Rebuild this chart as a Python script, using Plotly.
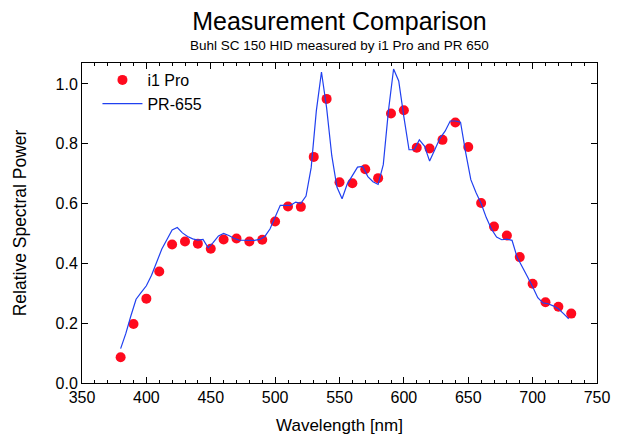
import plotly.graph_objects as go

TITLE = 'Measurement Comparison'
SUBTITLE = 'Buhl SC 150 HID measured by i1 Pro and PR 650'

# i1 Pro readings, every 10 nm
i1_wavelength = list(range(380, 731, 10))
i1_power = [0.086, 0.197, 0.282, 0.373, 0.463, 0.473, 0.466, 0.449, 0.480, 0.483,
            0.473, 0.479, 0.540, 0.590, 0.589, 0.756, 0.950, 0.671, 0.668, 0.715,
            0.685, 0.901, 0.912, 0.787, 0.784, 0.813, 0.871, 0.789, 0.602, 0.523,
            0.493, 0.421, 0.332, 0.270, 0.255, 0.232]

# PR-655 readings, every 4 nm
pr_wavelength = list(range(380, 729, 4))
pr_power = [0.115, 0.165, 0.225, 0.280, 0.303, 0.325, 0.360, 0.405, 0.448, 0.480,
            0.512, 0.520, 0.502, 0.490, 0.482, 0.478, 0.480, 0.452, 0.470, 0.492,
            0.500, 0.493, 0.484, 0.478, 0.477, 0.477, 0.477, 0.480, 0.490, 0.515,
            0.555, 0.594, 0.594, 0.594, 0.605, 0.601, 0.625, 0.720, 0.910, 1.040,
            0.920, 0.760, 0.655, 0.616, 0.665, 0.696, 0.722, 0.724, 0.690, 0.673,
            0.664, 0.730, 0.910, 1.050, 1.010, 0.890, 0.780, 0.780, 0.813, 0.792,
            0.742, 0.780, 0.818, 0.842, 0.876, 0.876, 0.872, 0.770, 0.680, 0.637,
            0.600, 0.553, 0.515, 0.488, 0.479, 0.481, 0.477, 0.420, 0.385, 0.355,
            0.322, 0.285, 0.268, 0.265, 0.258, 0.248, 0.232, 0.215]

FONT = 'Liberation Sans, Arial, Helvetica, sans-serif'

# the page body has an 8px margin, so the figure is 8px smaller than the window
FIG_W = 616
FIG_H = 432

fig = go.Figure()
fig.add_trace(go.Scatter(x=i1_wavelength, y=i1_power, mode='markers', name='i1 Pro',
                         marker=dict(color='#ff0a1e', size=10, line=dict(width=0))))
fig.add_trace(go.Scatter(x=pr_wavelength, y=pr_power, mode='lines', name='PR-655',
                         line=dict(color='#2040f0', width=1.2)))

axis_style = dict(showline=True, linecolor='black', linewidth=1, mirror='ticks',
                  ticks='inside', ticklen=6, tickcolor='black', showgrid=False,
                  zeroline=False, automargin=False,
                  tickfont=dict(size=16, color='black'))

fig.update_xaxes(range=[350, 750], dtick=50,
                 title=dict(text='Wavelength [nm]', font=dict(size=17), standoff=13),
                 minor=dict(dtick=10, ticks='inside', ticklen=3, tickcolor='black'),
                 **axis_style)
fig.update_yaxes(range=[0, 1.07], dtick=0.2, tickformat='.1f',
                 title=dict(text='Relative Spectral Power', font=dict(size=17.5), standoff=24),
                 **axis_style)

fig.update_layout(
    width=FIG_W, height=FIG_H,
    margin=dict(l=74, r=27, t=55, b=57),
    paper_bgcolor='white', plot_bgcolor='white',
    font=dict(family=FONT, color='black'),
    title=dict(text=TITLE, font=dict(size=25), x=0.5, xref='paper', xanchor='center',
               yref='container', y=1 - 13 / FIG_H, yanchor='middle', automargin=False),
    legend=dict(x=0.03, y=1.0, xanchor='left', yanchor='top', bgcolor='rgba(0,0,0,0)',
                font=dict(size=16), tracegroupgap=0, itemwidth=40),
)
fig.add_annotation(text=SUBTITLE, xref='paper', yref='paper', x=0.5, y=1.056,
                   xanchor='center', yanchor='middle', showarrow=False,
                   font=dict(size=13.5, color='black'))

fig.write_html('out.html')
